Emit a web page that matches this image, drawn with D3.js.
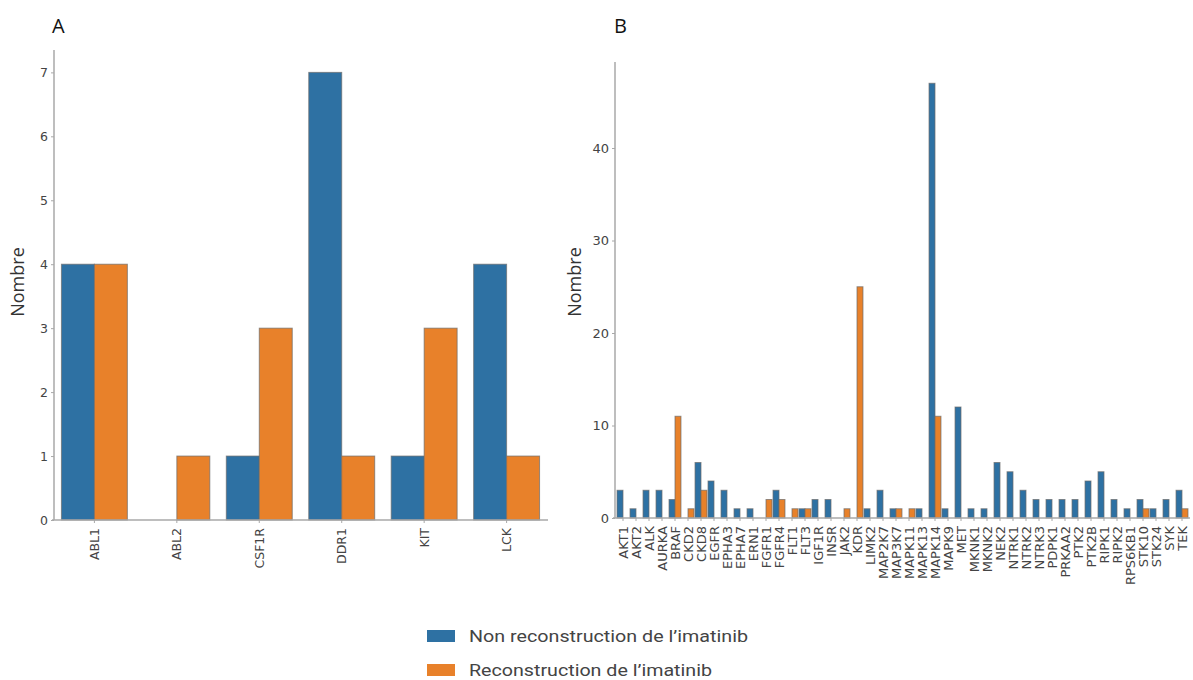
<!DOCTYPE html>
<html>
<head>
<meta charset="utf-8">
<script src="https://cdn.jsdelivr.net/npm/d3@7"></script>
<style>
body { margin: 0; background: #fff; }
svg text { font-family: "DejaVu Sans", sans-serif; }
</style>
</head>
<body>
<svg id="chart" width="1193" height="680"></svg>
<script>
// ---- Data ----
const categoriesA = ["ABL1", "ABL2", "CSF1R", "DDR1", "KIT", "LCK"];
const nonReconA = [4, 0, 1, 7, 1, 4];
const reconA = [4, 1, 3, 1, 3, 1];
const ticksA = [0, 1, 2, 3, 4, 5, 6, 7];

const categoriesB = ["AKT1","AKT2","ALK","AURKA","BRAF","CKD2","CKD8","EGFR","EPHA3","EPHA7","ERN1","FGFR1","FGFR4","FLT1","FLT3","IGF1R","INSR","JAK2","KDR","LIMK2","MAP2K7","MAP3K7","MAPK11","MAPK13","MAPK14","MAPK9","MET","MKNK1","MKNK2","NEK2","NTRK1","NTRK2","NTRK3","PDPK1","PRKAA2","PTK2","PTK2B","RIPK1","RIPK2","RPS6KB1","STK10","STK24","SYK","TEK"];
const nonReconB = [3,1,3,3,2,0,6,4,3,1,1,0,3,0,1,2,2,0,0,1,3,1,0,1,47,1,12,1,1,6,5,3,2,2,2,2,4,5,2,1,2,1,2,3];
const reconB    = [0,0,0,0,11,1,3,0,0,0,0,2,2,1,1,0,0,1,25,0,0,1,1,0,11,0,0,0,0,0,0,0,0,0,0,0,0,0,0,0,1,0,0,1];
const ticksB = [0, 10, 20, 30, 40];

const seriesNames = ["Non reconstruction de l\u2019imatinib", "Reconstruction de l\u2019imatinib"];
const colors = ["#2e71a3", "#e8812a"];

const svg = d3.select("#chart");
const axisColor = "#a8a8a8";
const textColor = "#444";

function panel(opts) {
  const g = svg.append("g");
  const x = d3.scaleBand().domain(opts.cats).range(opts.xRange)
    .paddingInner(opts.padIn).paddingOuter(opts.padOut);
  const xs = d3.scaleBand().domain([0, 1]).range([0, x.bandwidth()]);
  const y = d3.scaleLinear().domain([0, opts.yMax]).range(opts.yRange);

  const rows = opts.cats.map((c, i) => ({ c, v: [opts.s0[i], opts.s1[i]] }));
  const grp = g.selectAll("g.cat").data(rows).join("g")
    .attr("transform", d => `translate(${x(d.c)},0)`);
  grp.selectAll("rect").data(d => d.v.map((v, k) => ({ v, k })).filter(e => e.v > 0))
    .join("rect")
    .attr("x", e => xs(e.k))
    .attr("width", xs.bandwidth())
    .attr("y", e => y(e.v))
    .attr("height", e => y(0) - y(e.v))
    .attr("fill", e => colors[e.k])
    .attr("stroke", "#6b6b6b")
    .attr("stroke-opacity", 0.7)
    .attr("stroke-width", 1);

  // y axis
  const ya = g.append("g").attr("transform", `translate(${opts.yAxisX},0)`)
    .call(d3.axisLeft(y).tickValues(opts.ticks).tickSize(3).tickPadding(3).tickFormat(d3.format("d")));
  ya.select(".domain").remove();
  ya.selectAll(".tick line").attr("stroke", axisColor);
  ya.selectAll(".tick text").attr("fill", textColor).style("font-size", opts.yFont);
  g.append("line").attr("x1", opts.yAxisX).attr("x2", opts.yAxisX)
    .attr("y1", opts.yTop).attr("y2", y(0))
    .attr("stroke", axisColor).attr("stroke-width", 1.5);

  // x axis
  const xa = g.append("g").attr("transform", `translate(0,${y(0)})`)
    .call(d3.axisBottom(x).tickSize(3).tickPadding(4));
  xa.select(".domain").remove();
  xa.selectAll(".tick line").attr("stroke", axisColor);
  xa.selectAll(".tick text").attr("fill", textColor).style("font-size", opts.xFont)
    .attr("transform", "rotate(-90)")
    .attr("text-anchor", "end")
    .attr("x", -8).attr("y", 0).attr("dy", "0.35em");
  g.append("line").attr("x1", opts.xLine[0]).attr("x2", opts.xLine[1])
    .attr("y1", y(0)).attr("y2", y(0))
    .attr("stroke", axisColor).attr("stroke-width", 1.5);

  // y label
  g.append("text").attr("transform", `translate(${opts.labelX},${opts.labelY}) rotate(-90)`)
    .attr("text-anchor", "middle").attr("fill", "#333")
    .style("font-family", "'Open Sans', sans-serif").style("font-size", "18px").text("Nombre");
  // panel letter
  g.append("text").attr("x", opts.letterX).attr("y", opts.letterY)
    .attr("fill", "#111").style("font-family", "'Open Sans', sans-serif")
    .style("font-size", "20px").text(opts.letter);
}

panel({
  cats: categoriesA, s0: nonReconA, s1: reconA, ticks: ticksA,
  xRange: [54, 547], padIn: 0.2, padOut: 0.09,
  yMax: 7.35, yRange: [520, 50], yTop: 50, yAxisX: 54,
  xLine: [52, 548], xFont: "12.5px", yFont: "12.5px",
  labelX: 24, labelY: 282, letter: "A", letterX: 52, letterY: 33
});

panel({
  cats: categoriesB, s0: nonReconB, s1: reconB, ticks: ticksB,
  xRange: [616.5, 1188.5], padIn: 0.08, padOut: 0.04,
  yMax: 49.3, yRange: [518, 62], yTop: 62, yAxisX: 615,
  xLine: [613, 1190], xFont: "13px", yFont: "13px",
  labelX: 581, labelY: 282, letter: "B", letterX: 614, letterY: 33
});

// legend
const legendWidths = [279, 243];
const leg = svg.append("g");
seriesNames.forEach((name, i) => {
  const yy = 630 + i * 34;
  leg.append("rect").attr("x", 427).attr("y", yy).attr("width", 28).attr("height", 12)
    .attr("fill", colors[i]);
  leg.append("text").attr("x", 469).attr("y", yy + 6).attr("dy", "0.35em")
    .attr("fill", textColor).style("font-family", "Roboto, sans-serif")
    .style("font-size", "17px")
    .attr("textLength", legendWidths[i]).attr("lengthAdjust", "spacingAndGlyphs")
    .text(name);
});
</script>
</body>
</html>
